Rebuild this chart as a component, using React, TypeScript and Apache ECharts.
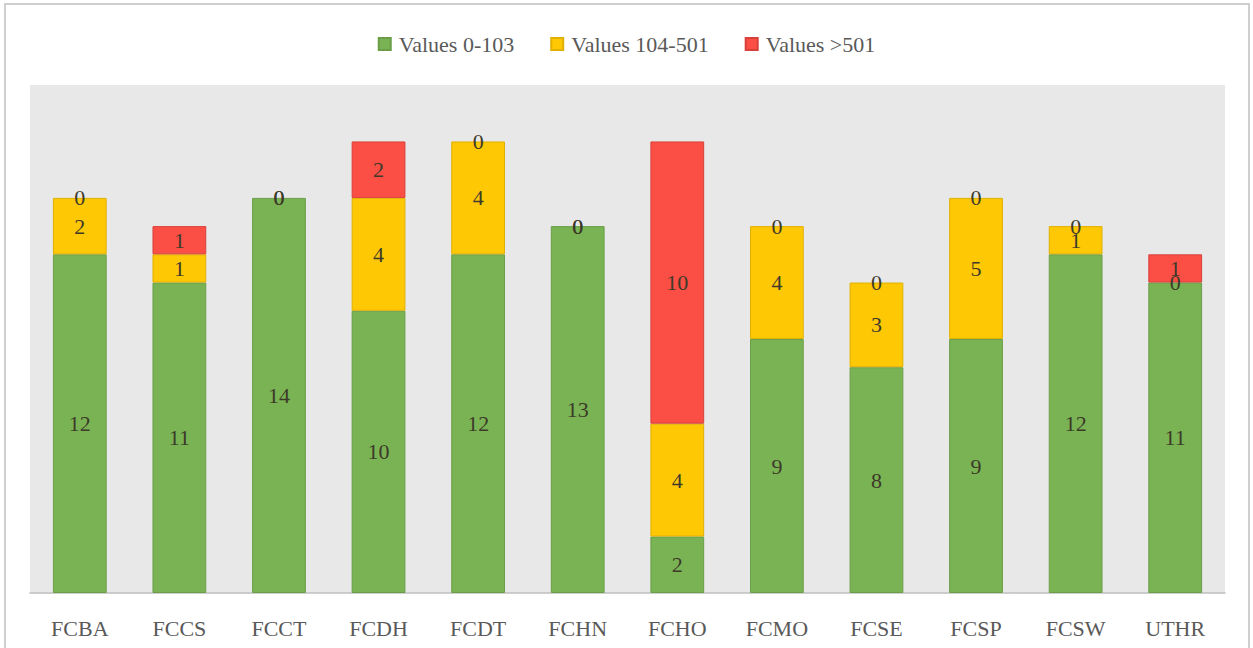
import React, { useEffect, useRef } from "react";
import * as echarts from "echarts";

const categories = ["FCBA", "FCCS", "FCCT", "FCDH", "FCDT", "FCHN", "FCHO", "FCMO", "FCSE", "FCSP", "FCSW", "UTHR"];
const low = [12, 11, 14, 10, 12, 13, 2, 9, 8, 9, 12, 11];
const mid = [2, 1, 0, 4, 4, 0, 4, 4, 3, 5, 1, 0];
const high = [0, 1, 0, 2, 0, 0, 10, 0, 0, 0, 0, 1];
const seriesNames = ["Values 0-103", "Values 104-501", "Values >501"];
const colors = ["#79b353", "#ffc805", "#fb4f46"];
const borders = ["#6a9e48", "#e0b000", "#d8403a"];

const FONT = "'Liberation Serif', 'DejaVu Serif', serif";

export default function App() {
  const ref = useRef<HTMLDivElement>(null);
  useEffect(() => {
    const chart = echarts.init(ref.current!, undefined, { renderer: "svg" });
    const data = [low, mid, high];
    chart.setOption({
      animation: false,
      backgroundColor: "#ffffff",
      textStyle: { fontFamily: FONT },
      graphic: [
        {
          type: "rect",
          shape: { x: 5, y: 4, width: 1244, height: 660 },
          style: { fill: "none", stroke: "#cfcfcf", lineWidth: 2 },
          z: -1,
        },
      ],
      legend: {
        top: 28,
        left: "center",
        itemWidth: 12,
        itemHeight: 12,
        itemGap: 36,
        icon: "rect",
        textStyle: { fontFamily: FONT, fontSize: 22, color: "#595959", padding: [0, 0, 0, 3] },
        data: seriesNames,
      },
      grid: {
        left: 30,
        right: 28,
        top: 85,
        bottom: 55,
        show: true,
        backgroundColor: "#e8e8e8",
        borderWidth: 0,
      },
      xAxis: {
        type: "category",
        data: categories,
        axisLine: { lineStyle: { color: "#bfbfbf", width: 1.5 } },
        axisTick: { show: false },
        axisLabel: { fontFamily: FONT, fontSize: 22, color: "#595959", margin: 24 },
      },
      yAxis: {
        type: "value",
        min: 0,
        max: 18,
        show: false,
        splitLine: { show: false },
      },
      series: data.map((d, i) => ({
        name: seriesNames[i],
        type: "bar",
        stack: "total",
        barWidth: "54%",
        data: d.map((v) => ({
          value: v,
          itemStyle: { borderWidth: v === 0 ? 0 : 1 },
        })),
        itemStyle: { color: colors[i], borderColor: borders[i], borderWidth: 1 },
        label: {
          show: true,
          position: "inside",
          fontFamily: FONT,
          fontSize: 22,
          color: "#3d3a2a",
        },
      })),
    });
    return () => chart.dispose();
  }, []);
  return (
    <div
      ref={ref}
      style={{ position: "fixed", left: 0, top: 0, width: 1253, height: 648 }}
    />
  );
}
